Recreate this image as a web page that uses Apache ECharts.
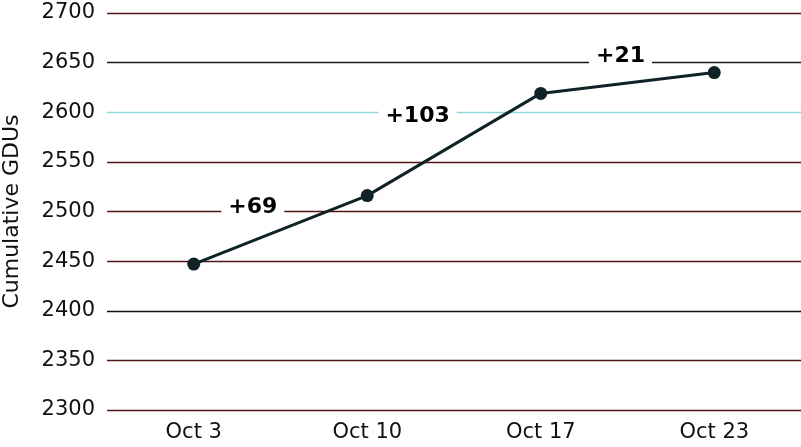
<!DOCTYPE html>
<html>
<head>
<meta charset="utf-8">
<script src="https://cdn.jsdelivr.net/npm/echarts@6/dist/echarts.min.js"></script>
<style>
  html, body { margin: 0; padding: 0; background: #fff; }
  #chart { width: 801px; height: 447px; }
</style>
</head>
<body>
<div id="chart"></div>
<script>
var chart = echarts.init(document.getElementById("chart"));

// data
var dates = ["Oct 3", "Oct 10", "Oct 17", "Oct 23"];
var gdus = [2447, 2516, 2619, 2640];
var yTicks = [2300, 2350, 2400, 2450, 2500, 2550, 2600, 2650, 2700];

// where the weekly gain labels sit (category index, GDU value)
var gainSpots = [[0.34, 2504], [1.29, 2596], [2.46, 2656]];
var gainLabels = ["+69", "+103", "+21"];

// grid line colours, one per tick from 2300 up
var gridColors = ["#4e1616", "#4e1616", "#111111", "#4e1616", "#4e1616",
                  "#4e1616", "#8fd6da", "#1c1c1c", "#4e1616"];

var gainData = gainSpots.map(function (p, i) {
  return { value: p, label: { formatter: gainLabels[i] } };
});

var option = {
  backgroundColor: "#fff",
  animation: false,
  grid: { left: 107, right: 0, top: 13, bottom: 37, outerBoundsMode: "none", containLabel: false },
  xAxis: [
    {
      type: "category",
      data: dates,
      axisLine: { show: false },
      axisTick: { show: false },
      axisLabel: {
        color: "#111",
        fontSize: 21,
        fontFamily: "DejaVu Sans",
        margin: 12
      }
    },
    {
      type: "value",
      min: -0.5,
      max: 3.5,
      show: false
    }
  ],
  yAxis: {
    type: "value",
    min: yTicks[0],
    max: yTicks[yTicks.length - 1],
    interval: 50,
    name: "Cumulative GDUs",
    nameLocation: "middle",
    nameGap: 84,
    nameTextStyle: { color: "#111", fontSize: 22, fontFamily: "DejaVu Sans" },
    axisLine: { show: false },
    axisTick: { show: false },
    axisLabel: {
      color: "#111",
      fontSize: 21,
      fontFamily: "DejaVu Sans",
      margin: 12,
      formatter: function (v) { return String(v); }
    },
    splitLine: {
      lineStyle: { color: gridColors, width: 1.3 }
    }
  },
  series: [
    {
      type: "line",
      data: gdus,
      symbol: "circle",
      symbolSize: 13,
      lineStyle: { color: "#0f2326", width: 3 },
      itemStyle: { color: "#0f2326" },
      z: 3
    },
    {
      type: "scatter",
      xAxisIndex: 1,
      data: gainData,
      symbolSize: 0,
      itemStyle: { opacity: 1 },
      z: 4,
      label: {
        show: true,
        position: [0, 0],
        align: "center",
        verticalAlign: "middle",
        color: "#000",
        opacity: 1,
        fontSize: 22,
        fontWeight: "bold",
        fontFamily: "DejaVu Sans",
        backgroundColor: "#fff",
        padding: [2, 7]
      }
    }
  ]
};
chart.setOption(option);
</script>
</body>
</html>
